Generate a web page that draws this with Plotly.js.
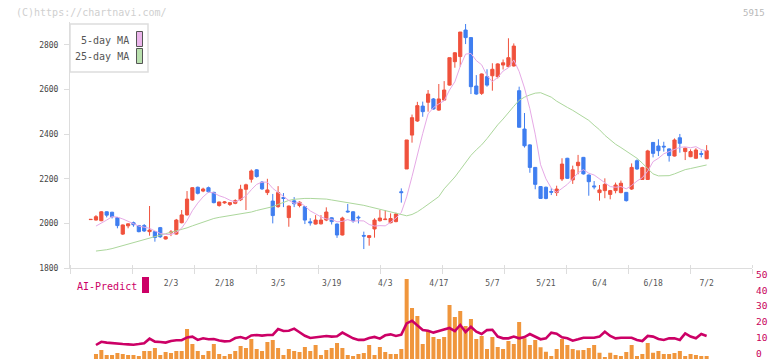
<!DOCTYPE html>
<html>
<head>
<meta charset="utf-8">
<script src="https://cdn.plot.ly/plotly-3.0.1.min.js"></script>
<style>
  html, body { margin: 0; padding: 0; background: #ffffff; }
  #chart { width: 772px; height: 361px; }
</style>
</head>
<body>
<div id="chart"></div>
<script>
// Trading days (M/D)
const dates = ['1/13','1/14','1/15','1/16','1/19','1/20','1/21','1/22','1/23','1/26','1/27','1/28','1/29','1/30','2/2',
  '2/3','2/4','2/5','2/6','2/9','2/10','2/12','2/13','2/16','2/17','2/18','2/19','2/20','2/24','2/25','2/26','2/27',
  '3/2','3/3','3/4','3/5','3/6','3/9','3/10','3/11','3/12','3/13','3/16','3/17','3/18','3/19','3/23','3/24','3/25','3/26','3/27','3/30','3/31',
  '4/1','4/2','4/3','4/6','4/7','4/8','4/9','4/10','4/13','4/14','4/15','4/16','4/17','4/20','4/21','4/22','4/23','4/24','4/27','4/28','4/30',
  '5/1','5/7','5/8','5/11','5/12','5/13','5/14','5/15','5/18','5/19','5/20','5/21','5/22','5/25','5/26','5/27','5/28','5/29',
  '6/1','6/2','6/3','6/4','6/5','6/8','6/9','6/10','6/11','6/12','6/15','6/16','6/17','6/18','6/19','6/22','6/23','6/24','6/25','6/26','6/29','6/30',
  '7/1','7/2'];

const open  = [2017,2015,2012,2052,2050,2026,1952,1989,2003,1990,1990,1963,1963,1981,1930,1958,1952,2003,2038,2105,2162,2145,2160,2139,2080,2092,2085,2090,2106,2153,2198,2240,2185,2138,2100,2075,2116,2026,2101,2080,2075,2007,1997,1998,2015,2025,1997,1948,2055,2052,2028,1946,1937,1975,2012,2017,2003,2008,2142,2244,2396,2459,2526,2543,2558,2508,2553,2620,2725,2748,2867,2833,2616,2583,2658,2662,2658,2710,2703,2706,2595,2423,2352,2251,2165,2162,2143,2138,2199,2292,2195,2259,2296,2217,2168,2138,2147,2130,2147,2138,2139,2154,2281,2197,2197,2363,2347,2346,2334,2302,2384,2322,2299,2292,2313,2290];
const high  = [2018,2037,2055,2054,2052,2028,1995,2000,2008,1993,1997,2078,1966,1984,1943,1970,2020,2060,2145,2162,2165,2160,2165,2142,2097,2100,2095,2108,2173,2178,2242,2243,2190,2200,2132,2167,2136,2080,2118,2100,2078,2023,2037,2037,2072,2028,2000,2030,2087,2055,2035,1963,1948,2023,2060,2060,2045,2048,2157,2374,2488,2545,2546,2598,2562,2625,2638,2743,2768,2858,2894,2835,2665,2672,2691,2718,2718,2735,2830,2807,2613,2495,2355,2253,2167,2165,2158,2169,2292,2294,2259,2307,2298,2219,2190,2172,2202,2150,2183,2192,2141,2269,2287,2254,2330,2365,2377,2366,2336,2381,2401,2340,2332,2337,2326,2351];
const low   = [2017,2013,2010,2027,2022,1978,1948,1978,1985,1960,1962,1945,1918,1935,1928,1943,1950,2000,2035,2102,2130,2140,2138,2090,2075,2088,2078,2086,2100,2060,2183,2205,2150,2127,2000,2070,2073,1985,2073,2072,1997,1990,1995,1995,2010,1995,1935,1946,2048,2003,2000,1885,1900,1936,2008,2015,2000,2005,2093,2244,2362,2455,2478,2501,2510,2505,2550,2618,2698,2703,2804,2580,2577,2576,2613,2595,2650,2690,2700,2703,2431,2340,2227,2153,2110,2108,2127,2123,2190,2199,2177,2220,2219,2124,2153,2102,2113,2108,2135,2135,2098,2150,2240,2195,2195,2296,2302,2322,2277,2300,2317,2284,2297,2290,2296,2288];
const close = [2018,2030,2052,2037,2030,1990,1993,1998,1994,1963,1966,1970,1937,1940,1940,1961,2015,2038,2109,2160,2135,2154,2142,2093,2096,2096,2093,2102,2153,2173,2235,2210,2155,2150,2035,2138,2112,2078,2088,2095,2015,2003,2015,2015,2051,2008,1948,2024,2052,2011,2025,1943,1945,2015,2024,2019,2022,2042,2138,2374,2474,2528,2501,2580,2513,2558,2598,2743,2765,2858,2833,2613,2580,2670,2620,2691,2715,2720,2743,2795,2431,2348,2251,2175,2112,2112,2140,2154,2266,2202,2240,2274,2222,2187,2164,2150,2175,2147,2172,2180,2102,2251,2244,2250,2325,2314,2326,2343,2304,2374,2359,2337,2322,2329,2310,2326];

// Moving averages as plotted
const ma5  = [null,1988,2000,2015,2030,2028,2020,2010,2001,1988,1983,1978,1966,1955,1951,1950,1959,1979,2013,2057,2091,2119,2140,2137,2124,2116,2104,2096,2108,2123,2151,2175,2185,2185,2157,2138,2118,2103,2090,2095,2078,2056,2043,2029,2020,2018,2007,2009,2017,2009,2012,2011,1995,1988,1990,1989,2005,2024,2049,2119,2210,2311,2403,2491,2519,2536,2550,2598,2635,2704,2759,2762,2730,2711,2663,2635,2655,2683,2698,2733,2681,2607,2514,2400,2263,2200,2158,2139,2157,2175,2200,2227,2241,2225,2217,2199,2180,2165,2162,2165,2155,2170,2190,2205,2234,2277,2292,2312,2322,2332,2341,2343,2339,2344,2331,2325];
const ma25 = [null,1876,1878,1882,1887,1894,1901,1908,1915,1922,1929,1936,1942,1948,1954,1960,1966,1972,1980,1989,1998,2007,2015,2022,2027,2031,2034,2037,2040,2045,2051,2058,2064,2070,2075,2085,2095,2103,2108,2111,2112,2112,2112,2111,2109,2105,2101,2098,2095,2091,2087,2081,2075,2069,2063,2056,2049,2044,2038,2034,2040,2052,2068,2085,2100,2120,2155,2180,2208,2240,2275,2305,2330,2352,2380,2412,2442,2468,2498,2525,2552,2566,2576,2584,2586,2577,2566,2548,2533,2520,2507,2493,2478,2462,2440,2420,2395,2375,2355,2340,2323,2308,2292,2270,2245,2222,2213,2212,2214,2222,2233,2241,2246,2251,2256,2262];

// Volume (thousand shares) and AI-Predict score
const volume = [null,15,27,12,12,18,15,12,12,9,24,24,33,12,21,18,24,24,90,45,24,12,24,45,15,9,15,24,39,33,60,30,24,51,57,33,12,30,24,21,36,24,42,12,27,33,48,33,12,9,15,18,42,12,36,21,15,15,30,240,153,129,45,84,66,60,66,162,126,144,99,120,60,69,30,66,36,30,54,45,111,62,42,57,35,22,9,30,60,42,30,26,27,33,42,19,6,19,12,9,21,42,9,15,48,19,24,15,15,18,24,9,15,12,9,9];
const aiPredict = [null,8.0,10.0,9.5,9.1,8.6,8.6,8.4,8.2,8.6,9.1,12.0,10.1,9.9,9.5,10.5,11.0,11.0,12.8,13.3,11.2,12.2,11.6,11.8,10.8,10.3,10.5,12.4,13.0,12.0,14.0,14.3,13.9,14.3,14.3,18.0,16.8,17.0,18.3,16.0,13.8,12.4,12.7,13.3,13.7,13.3,13.5,15.8,13.9,12.2,11.2,11.2,12.4,13.1,12.0,14.1,14.7,13.7,14.5,21.6,23.3,20.6,17.4,17.0,15.8,16.8,17.9,18.7,16.8,20.6,16.2,19.5,16.4,14.9,17.4,17.6,13.3,12.2,12.2,13.3,12.2,13.0,14.9,13.3,11.6,12.2,15.8,15.1,12.8,12.2,10.7,11.6,12.6,12.6,12.6,13.3,16.4,13.7,12.2,12.6,12.8,12.6,11.2,10.5,13.7,13.3,11.8,11.2,12.2,12.2,11.2,15.3,13.3,12.2,14.9,13.7];

const tickLabels = ['2/3','2/18','3/5','3/19','4/3','4/17','5/7','5/21','6/4','6/18','7/2'];
const priceTicks = [1800, 2000, 2200, 2400, 2600, 2800];
const scoreTicks = [0, 10, 20, 30, 40, 50];

// ---- helpers: pixel -> paper coordinates ----
const W = 772, H = 361;
const px = x => x / W;
const py = y => 1 - y / H;

const FONT = 'DejaVu Sans Mono, Liberation Mono, monospace';
const UP = '#f0513c', DOWN = '#3f7ef0';
const idx = dates.map((d, i) => i);
const tickIdx = tickLabels.map(t => dates.indexOf(t));

const XR = [-3.85, 123.47];
const gridStep = (XR[1] - XR[0]) / 11;

// lower panel: volume axis is the base, score axis overlays it
const LOW_BOTTOM = 359, LOW_TOP = 278.3;
const SCORE_ZERO_Y = 357.7, SCORE_50_Y = 278.3;
const scorePerPx = 50 / (SCORE_ZERO_Y - SCORE_50_Y);
const scoreRange = [-(LOW_BOTTOM - SCORE_ZERO_Y) * scorePerPx, 50.02];
const volRange = [0, 240 * (LOW_BOTTOM - LOW_TOP) / (LOW_BOTTOM - 279)];

const traces = [
  {
    type: 'candlestick', x: idx, open: open, high: high, low: low, close: close,
    xaxis: 'x', yaxis: 'y', whiskerwidth: 0, hoverinfo: 'skip', showlegend: false,
    increasing: { line: { color: UP, width: 1 }, fillcolor: UP },
    decreasing: { line: { color: DOWN, width: 1 }, fillcolor: DOWN }
  },
  {
    type: 'scatter', mode: 'lines', x: idx, y: ma25, xaxis: 'x', yaxis: 'y',
    line: { color: '#acd79c', width: 1 }, hoverinfo: 'skip', showlegend: false
  },
  {
    type: 'scatter', mode: 'lines', x: idx, y: ma5, xaxis: 'x', yaxis: 'y',
    line: { color: '#e6a9e6', width: 1 }, hoverinfo: 'skip', showlegend: false
  },
  {
    type: 'bar', x: idx, y: volume, xaxis: 'x2', yaxis: 'y3',
    marker: { color: '#f0963c', line: { width: 0 } }, hoverinfo: 'skip', showlegend: false
  },
  {
    type: 'scatter', mode: 'lines', x: idx, y: aiPredict, xaxis: 'x2', yaxis: 'y2',
    line: { color: '#cc0066', width: 2.6 }, hoverinfo: 'skip', showlegend: false
  }
];

const layout = {
  width: W, height: H,
  margin: { l: 0, r: 0, t: 0, b: 0, pad: 0 },
  paper_bgcolor: '#ffffff', plot_bgcolor: 'rgba(0,0,0,0)',
  showlegend: false,
  bargap: 0.25,
  boxgap: 0.15,
  font: { family: FONT, size: 8, color: '#555' },
  xaxis: {
    domain: [px(70), px(752)], range: XR, anchor: 'y',
    showline: true, linecolor: '#dddddd', linewidth: 1,
    tickmode: 'array', ticks: '', tickvals: tickIdx, ticktext: tickLabels, showticklabels: true,
    tickfont: { family: FONT, size: 8, color: '#555' }, ticklabelstandoff: 7, ticklabeloverflow: 'allow',
    showgrid: false, zeroline: false, fixedrange: true,
    rangeslider: { visible: false },
    minor: { tick0: XR[0], dtick: gridStep, ticks: 'outside', ticklen: 5, tickcolor: '#dddddd', tickwidth: 1, showgrid: false }
  },
  yaxis: {
    domain: [py(268), py(22)], range: [1800, 2903],
    tickvals: priceTicks, ticks: 'outside', ticklen: 5, tickcolor: '#dddddd', tickwidth: 1,
    showline: true, linecolor: '#dddddd', linewidth: 1,
    tickfont: { family: FONT, size: 8, color: '#444' }, ticklabelstandoff: 4,
    showgrid: false, zeroline: false, fixedrange: true
  },
  xaxis2: {
    domain: [px(70), px(752)], range: XR, anchor: 'free', position: py(268), side: 'top',
    showline: false, ticks: '', showticklabels: false, showgrid: false, zeroline: false, fixedrange: true,
    minor: { tick0: XR[0], dtick: gridStep, ticks: 'outside', ticklen: 3, tickcolor: '#dddddd', tickwidth: 1, showgrid: false }
  },
  yaxis3: {
    domain: [py(LOW_BOTTOM), py(LOW_TOP)], range: volRange, anchor: 'x2',
    visible: false, showgrid: false, zeroline: false, fixedrange: true
  },
  yaxis2: {
    overlaying: 'y3', range: scoreRange, anchor: 'x2', side: 'right',
    tickvals: scoreTicks, ticks: '', showline: false, showgrid: false, zeroline: false,
    tickfont: { family: FONT, size: 9.5, color: '#c8005a' }, ticklabelstandoff: 3, ticklabelshift: -4,
    ticklabeloverflow: 'allow', fixedrange: true
  },
  shapes: [
    // moving-average legend frame and swatches
    { type: 'rect', xref: 'paper', yref: 'paper', x0: px(70), x1: px(148), y0: py(72), y1: py(24),
      fillcolor: '#ffffff', line: { color: '#dddddd', width: 1.5 }, layer: 'above' },
    { type: 'rect', xref: 'paper', yref: 'paper', x0: px(136.5), x1: px(142.5), y0: py(46.5), y1: py(31.5),
      fillcolor: '#ebb5eb', line: { color: '#555555', width: 1 }, layer: 'above' },
    { type: 'rect', xref: 'paper', yref: 'paper', x0: px(136.5), x1: px(142.5), y0: py(63.5), y1: py(48.5),
      fillcolor: '#b9e0ae', line: { color: '#555555', width: 1 }, layer: 'above' },
    // AI-Predict key
    { type: 'rect', xref: 'paper', yref: 'paper', x0: px(142), x1: px(149), y0: py(293), y1: py(277),
      fillcolor: '#cc0066', line: { width: 0 }, layer: 'above' }
  ],
  annotations: [
    { xref: 'paper', yref: 'paper', x: px(14), y: py(12.5), xanchor: 'left', yanchor: 'middle', showarrow: false,
      text: '(C)https://chartnavi.com/', font: { family: FONT, size: 10, color: '#cfcfcf' } },
    { xref: 'paper', yref: 'paper', x: px(767), y: py(12.5), xanchor: 'right', yanchor: 'middle', showarrow: false,
      text: '5915', font: { family: FONT, size: 9, color: '#b8b8b8' } },
    { xref: 'paper', yref: 'paper', x: px(130.5), y: py(40), xanchor: 'right', yanchor: 'middle', showarrow: false,
      text: '5-day MA', font: { family: FONT, size: 10, color: '#555' } },
    { xref: 'paper', yref: 'paper', x: px(130.5), y: py(56.5), xanchor: 'right', yanchor: 'middle', showarrow: false,
      text: '25-day MA', font: { family: FONT, size: 10, color: '#555' } },
    { xref: 'paper', yref: 'paper', x: px(75), y: py(286), xanchor: 'left', yanchor: 'middle', showarrow: false,
      text: 'AI-Predict', font: { family: FONT, size: 10, color: '#cc0066' } }
  ]
};

Plotly.newPlot('chart', traces, layout, { staticPlot: true, displayModeBar: false });
</script>
</body>
</html>
